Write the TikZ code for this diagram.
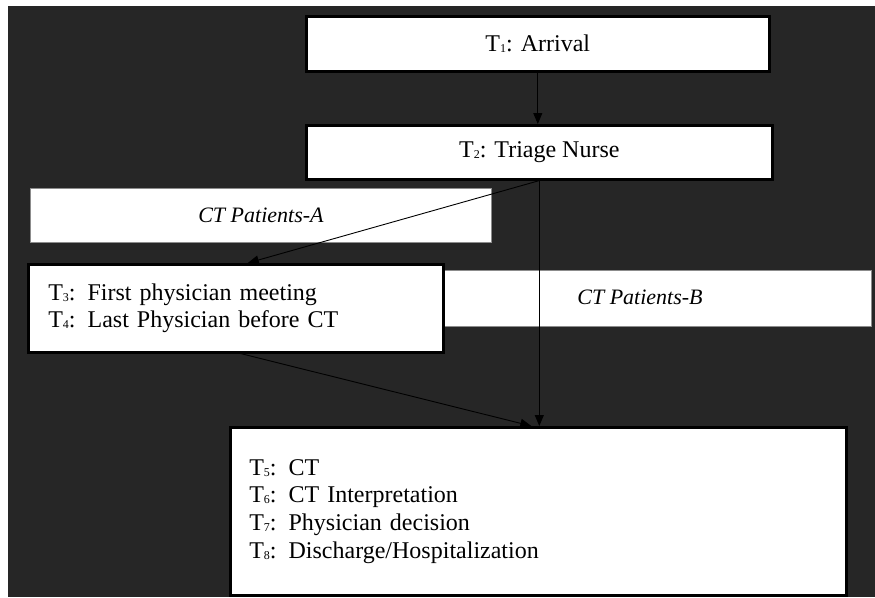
\documentclass[tikz,border=0pt]{standalone}
\usepackage{fontspec}
\setmainfont{Liberation Serif}
\usetikzlibrary{arrows.meta}
\definecolor{bgdark}{HTML}{262626}
\definecolor{pborder}{HTML}{8C8C8C}
\newcommand\tsub[1]{\raisebox{-1pt}{\fontsize{12}{12}\selectfont #1}}
\tikzset{
  tbox/.style={draw=black, line width=2.6pt, fill=white, inner sep=0pt, anchor=north west,
    font=\fontsize{24}{27.7}\selectfont},
  pbox/.style={draw=pborder, line width=0.9pt, fill=white, inner sep=0pt, anchor=north west,
    font=\fontsize{22}{26}\selectfont\itshape},
  ptext/.style={inner sep=0pt, font=\fontsize{22}{26}\selectfont\itshape},
  conn/.style={draw=black, line width=0.9pt, -{Triangle[length=11pt,width=9pt]}}
}
\begin{document}
\begin{tikzpicture}[x=1pt,y=-1pt]
\useasboundingbox (0,0) rectangle (875,597);
\fill[white] (0,0) rectangle (875,597);
\fill[bgdark] (8,6) rectangle (875,597);
% patient group bands
\node[pbox, minimum width=461pt, minimum height=54pt] (pa) at (30,188) {CT Patients-A};
\node[pbox, minimum width=428pt, minimum height=56pt] (pb) at (443,270) {};
\node[ptext] (pbt) at (640,297) {CT Patients-B};
% time-point boxes
\node[tbox, minimum width=463pt, minimum height=55pt] (t1) at (305,15) {T\tsub{1}: Arrival};
\node[tbox, minimum width=466pt, minimum height=54pt] (t2) at (305,124) {T\tsub{2}: Triage Nurse};
\node[tbox, minimum width=415pt, minimum height=88pt, inner xsep=20pt, text width=375pt, align=left] (t3) at (27,263)
  {T\tsub{3}: First physician meeting\\T\tsub{4}: Last Physician before CT};
\node[tbox, minimum width=616pt, minimum height=168pt, inner xsep=19pt, text width=578pt, align=left] (t5) at (229,426)
  {T\tsub{5}: CT\\T\tsub{6}: CT Interpretation\\T\tsub{7}: Physician decision\\T\tsub{8}: Discharge/Hospitalization};
% connectors
\draw[conn] (t1.south) -- (t1.south |- t2.north);
\draw[conn] (t2.south) -- ([xshift=12pt]t3.north);
\draw[conn] (t2.south) -- (t2.south |- t5.north);
\draw[conn] ([xshift=5pt]t3.south) -- ([xshift=-7pt]t5.north);
\end{tikzpicture}
\end{document}
